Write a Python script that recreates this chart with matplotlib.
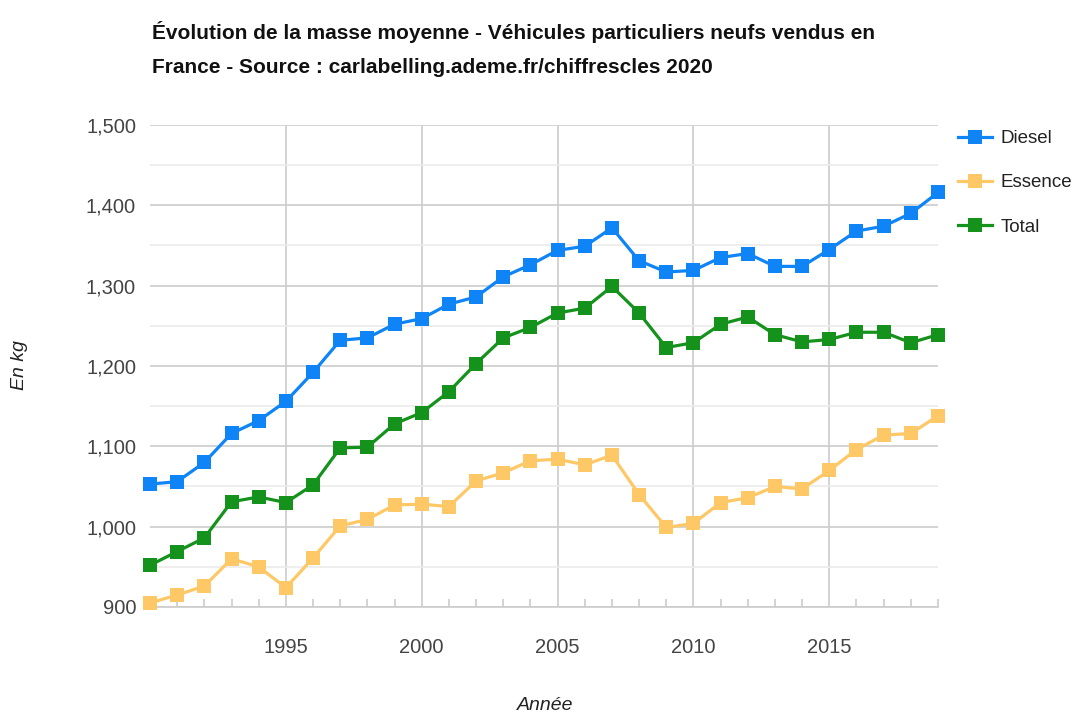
import matplotlib
matplotlib.use("Agg")
import matplotlib.pyplot as plt
from matplotlib.ticker import MultipleLocator, FixedLocator, FuncFormatter

years = list(range(1990, 2020))
diesel = [1053, 1056, 1080, 1116, 1132, 1156, 1192, 1232, 1235, 1252,
          1259, 1277, 1286, 1311, 1326, 1344, 1349, 1372, 1331, 1317,
          1319, 1335, 1340, 1324, 1324, 1345, 1368, 1374, 1390, 1416]
essence = [905, 915, 926, 960, 950, 924, 961, 1001, 1009, 1027,
           1028, 1025, 1057, 1067, 1082, 1084, 1077, 1089, 1040, 999,
           1004, 1030, 1036, 1050, 1047, 1070, 1096, 1114, 1116, 1138]
total = [952, 969, 986, 1031, 1037, 1030, 1052, 1098, 1099, 1128,
         1142, 1168, 1203, 1235, 1248, 1266, 1272, 1299, 1266, 1223,
         1229, 1252, 1261, 1239, 1230, 1233, 1242, 1242, 1229, 1239]
x_ticks = [1995, 2000, 2005, 2010, 2015]
series_names = ["Diesel", "Essence", "Total"]
colors = ["#0f84f7", "#fdc865", "#14921c"]
title = ("Évolution de la masse moyenne - Véhicules particuliers neufs vendus en\n"
         "France - Source : carlabelling.ademe.fr/chiffrescles 2020")
xlabel = "Année"
ylabel = "En kg"

plt.rcParams['font.family'] = ["Liberation Sans", "DejaVu Sans"]

fig = plt.figure(figsize=(10.81, 7.15), dpi=100)
ax = fig.add_axes([150/1081, 1-607/715, (938-150)/1081, (607-125)/715])

for vals, name, c in zip([diesel, essence, total], series_names, colors):
    ax.plot(years, vals, color=c, lw=2.3, marker='s', markersize=9.5,
            markeredgewidth=0, label=name, zorder=3, clip_on=False)

ax.set_xlim(years[0], years[-1])
ax.set_ylim(900, 1500)
ax.yaxis.set_major_locator(MultipleLocator(100))
ax.yaxis.set_minor_locator(MultipleLocator(50))
ax.xaxis.set_major_locator(FixedLocator(x_ticks))
ax.xaxis.set_minor_locator(FixedLocator([y for y in years[1:] if y not in x_ticks]))
ax.yaxis.set_major_formatter(FuncFormatter(lambda v, p: f"{int(v):,}"))

ax.grid(True, which='major', axis='both', color='#cccccc', lw=1.2, zorder=0)
ax.grid(True, which='minor', axis='y', color='#ebebeb', lw=1.2, zorder=0)
for s in ['top', 'right', 'left']:
    ax.spines[s].set_visible(False)
ax.spines['bottom'].set_color('#cccccc')
ax.spines['bottom'].set_linewidth(1.2)

ax.tick_params(axis='y', which='both', length=0, labelsize=14.5, labelcolor='#444444', pad=10)
ax.tick_params(axis='x', which='major', length=0, labelsize=14.5, labelcolor='#444444', pad=22)
ax.tick_params(axis='x', which='minor', direction='in', length=6, color='#cccccc', width=1.2)

fig.text(152/1081, 1-49/715, title, fontsize=15, fontweight='bold', color='#111111',
         ha='left', va='center', linespacing=2.0)
fig.text(545/1081, 1-705/715, xlabel, fontsize=14, style='italic', color='#222222',
         ha='center', va='center')
fig.text(20/1081, 1-365/715, ylabel, fontsize=14, style='italic', color='#222222',
         ha='center', va='center', rotation=90)

leg = ax.legend(loc='upper left', bbox_to_anchor=(958/1081, 1-130/715),
                bbox_transform=fig.transFigure, frameon=False, fontsize=13.5,
                handlelength=1.8, handletextpad=0.45, labelspacing=1.45,
                borderaxespad=0, borderpad=0, labelcolor='#222222')

fig.savefig("out.png", dpi=100)
